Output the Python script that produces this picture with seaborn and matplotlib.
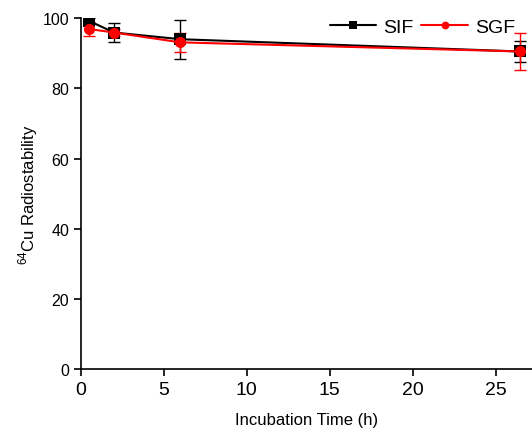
import numpy as np
import pandas as pd
import seaborn as sns
import matplotlib.pyplot as plt

# Data
time_h = [0.5, 2, 6, 26.5]
sif_mean = [99.2, 95.9, 94.0, 90.5]
sif_err = [0.8, 2.8, 5.6, 3.0]
sgf_mean = [96.9, 95.9, 93.1, 90.5]
sgf_err = [1.9, 1.0, 2.8, 5.3]

df = pd.DataFrame({
    'time': time_h * 2,
    'value': sif_mean + sgf_mean,
    'group': ['SIF'] * 4 + ['SGF'] * 4,
})

sns.set_style('ticks')
plt.rcParams['font.family'] = ['Liberation Sans', 'DejaVu Sans']
plt.rcParams['mathtext.fontset'] = 'custom'
plt.rcParams['mathtext.rm'] = 'Liberation Sans'
plt.rcParams['text.color'] = 'black'
plt.rcParams['axes.labelcolor'] = 'black'
plt.rcParams['xtick.color'] = 'black'
plt.rcParams['ytick.color'] = 'black'
plt.rcParams['axes.edgecolor'] = 'black'

fig = plt.figure(figsize=(5.32, 4.35), dpi=100)
ax = fig.add_axes([0.152, 0.149, 0.848, 0.807])

palette = {'SIF': 'black', 'SGF': 'red'}
markers = {'SIF': 's', 'SGF': 'o'}

# error bars first so lines/markers sit on top
ax.errorbar(time_h, sif_mean, yerr=sif_err, fmt='none', ecolor='black',
            elinewidth=1, capsize=4, capthick=1, zorder=2)
ax.errorbar(time_h, sgf_mean, yerr=sgf_err, fmt='none', ecolor='red',
            elinewidth=1, capsize=4, capthick=1, zorder=2)

sns.lineplot(data=df, x='time', y='value', hue='group', style='group',
             palette=palette, markers=markers, dashes=False,
             markersize=8, markeredgewidth=0, linewidth=1.5, ax=ax, zorder=3)

ax.set_xlim(0, 27.2)
ax.set_ylim(0, 100)
ax.set_xticks([0, 5, 10, 15, 20, 25])
ax.set_yticks([0, 20, 40, 60, 80, 100])
ax.tick_params(axis='x', labelsize=14, direction='out', length=5, width=1.2)
ax.tick_params(axis='y', labelsize=11.5, direction='out', length=5, width=1.2)
for s in ['left', 'bottom']:
    ax.spines[s].set_linewidth(1.2)
sns.despine(ax=ax)

ax.set_xlabel('Incubation Time (h)', fontsize=12, labelpad=10)
ax.set_ylabel(r'$^{64}$Cu Radiostability', fontsize=12, labelpad=2)

ax.legend(title=None, frameon=False, ncol=2, loc='center right',
          bbox_to_anchor=(0.962, 0.975), fontsize=14, handlelength=2.4,
          columnspacing=0.4, handletextpad=0.35, markerscale=0.7,
          borderpad=0, borderaxespad=0)

fig.savefig('out.png', dpi=100)
